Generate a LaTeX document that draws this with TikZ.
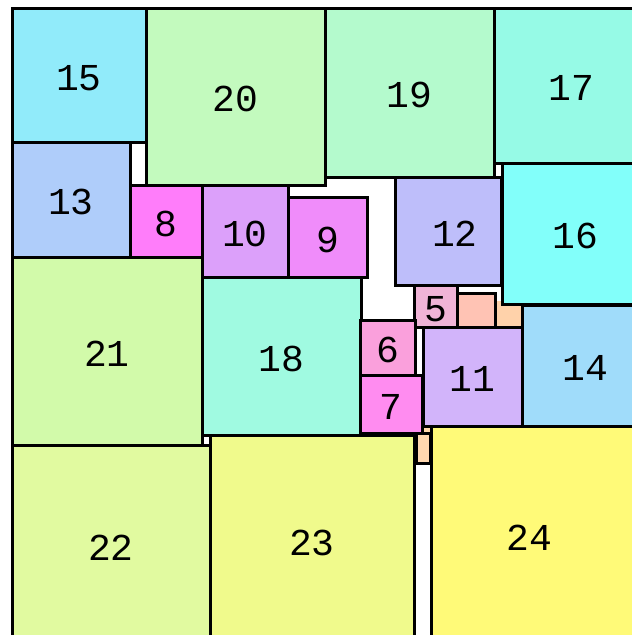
\documentclass[tikz,border=0pt]{standalone}
\usepackage{fontspec}
\newfontfamily\numfont{Liberation Mono}
\usepackage{tikz}

\definecolor{c1}{RGB}{255,215,170}
\definecolor{c2}{RGB}{255,215,175}
\definecolor{c3}{RGB}{255,210,170}
\definecolor{c4}{RGB}{255,195,180}
\definecolor{c5}{RGB}{240,180,215}
\definecolor{c6}{RGB}{250,160,220}
\definecolor{c7}{RGB}{255,140,240}
\definecolor{c8}{RGB}{255,125,250}
\definecolor{c9}{RGB}{240,140,250}
\definecolor{c10}{RGB}{220,160,250}
\definecolor{c11}{RGB}{210,180,250}
\definecolor{c12}{RGB}{190,190,250}
\definecolor{c13}{RGB}{175,205,250}
\definecolor{c14}{RGB}{160,220,250}
\definecolor{c15}{RGB}{145,235,250}
\definecolor{c16}{RGB}{130,255,250}
\definecolor{c17}{RGB}{150,250,230}
\definecolor{c18}{RGB}{160,250,225}
\definecolor{c19}{RGB}{180,250,205}
\definecolor{c20}{RGB}{195,250,190}
\definecolor{c21}{RGB}{210,250,170}
\definecolor{c22}{RGB}{225,250,160}
\definecolor{c23}{RGB}{240,250,140}
\definecolor{c24}{RGB}{255,250,120}

\begin{document}
\begin{tikzpicture}[
			x=1pt, y=-1pt,
			every node/.style={font=\numfont\fontsize{38}{38}\selectfont},
			tile/.style={draw=black, line width=3pt, anchor=north west,
				inner sep=0pt, outer sep=0pt, text height=30pt, text depth=0pt},
			]
			% frame of the picture
			\useasboundingbox (0,0) rectangle (632,635);
			\clip (0,0) rectangle (632,635);
			\fill[white] (0,0) rectangle (632,635);

			% --- small squares (unlabelled), behind the others ---
			\node[tile, fill=c3, draw=none, minimum width=27pt, minimum height=26pt] (t3) at (495,301) {};
			\node[tile, fill=c1, draw=none, minimum width=8pt, minimum height=8pt] (t1) at (422,426) {};
			\node[tile, fill=c2, minimum width=14pt, minimum height=22pt] (t2) at (416,433) {};

			% --- top row ---
			\node[tile, fill=c15, minimum width=134pt, minimum height=134pt] (t15) at (12,8) {15};
			\node[tile, fill=c20, minimum width=179pt, minimum height=177pt] (t20) at (146,8) {20};
			\node[tile, fill=c19, minimum width=169pt, minimum height=169pt] (t19) at (325,8) {19};
			\node[tile, fill=c17, minimum width=154pt, minimum height=155pt] (t17) at (494,8) {17};

			% --- middle band ---
			\node[tile, fill=c13, minimum width=118pt, minimum height=115pt] (t13) at (12,142) {13};
			\node[tile, fill=c8, minimum width=72pt, minimum height=72pt] (t8) at (130,185) {8};
			\node[tile, fill=c10, minimum width=86pt, minimum height=92pt] (t10) at (202,185) {10};
			\node[tile, fill=c9, minimum width=79pt, minimum height=80pt] (t9) at (288,197) {9};
			\node[tile, fill=c12, minimum width=106pt, minimum height=108pt] (t12) at (395,177) {\kern14pt 12};
			\node[tile, fill=c16, minimum width=146pt, minimum height=141pt] (t16) at (502,163) {16};

			\node[tile, fill=c21, minimum width=190pt, minimum height=188pt] (t21) at (12,257) {21};
			\node[tile, fill=c18, minimum width=159pt, minimum height=158pt] (t18) at (202,277) {18};
			\node[tile, fill=c5, minimum width=43pt, minimum height=42pt] (t5) at (414,285) {5};
			\node[tile, fill=c4, minimum width=38pt, minimum height=34pt] (t4) at (457,293) {};
			\node[tile, fill=c6, minimum width=55pt, minimum height=55pt] (t6) at (360,320) {6};
			\node[tile, fill=c7, minimum width=62pt, minimum height=58pt] (t7) at (360,375) {7};
			\node[tile, fill=c11, minimum width=99pt, minimum height=99pt] (t11) at (423,327) {11};
			\node[tile, fill=c14, minimum width=126pt, minimum height=121pt] (t14) at (522,305) {14};

			% --- bottom row ---
			\node[tile, fill=c22, minimum width=198pt, minimum height=200pt] (t22) at (12,445) {22};
			\node[tile, fill=c23, minimum width=204pt, minimum height=210pt] (t23) at (210,435) {23};
			\node[tile, fill=c24, minimum width=217pt, minimum height=219pt] (t24) at (431,426) {24\kern20pt};
		\end{tikzpicture}
\end{document}
